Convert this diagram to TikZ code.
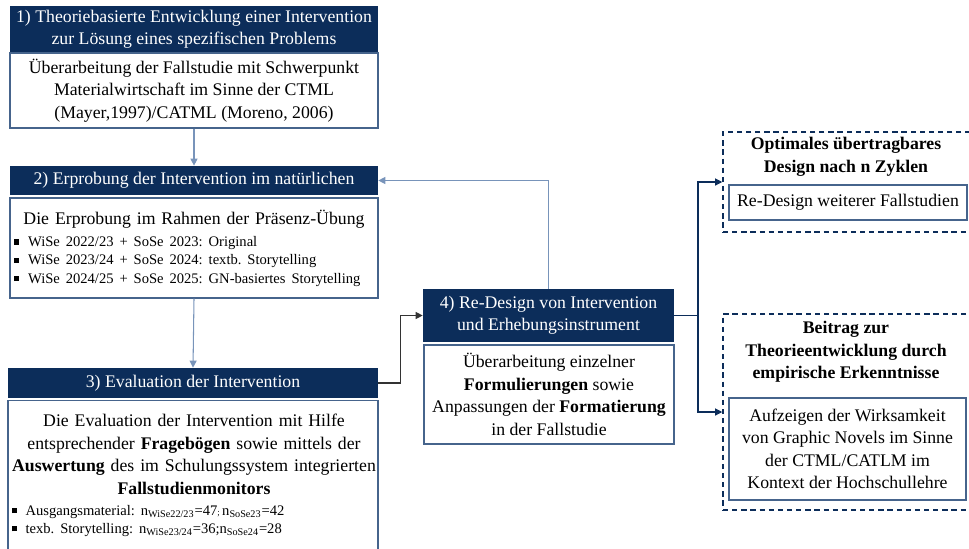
\documentclass[tikz,border=0pt]{standalone}
\usepackage{fontspec}
\setmainfont{Liberation Serif}
\usetikzlibrary{arrows.meta}
\frenchspacing

\definecolor{navy}{RGB}{12,45,90}
\definecolor{steel}{RGB}{70,100,140}
\definecolor{lightsteel}{RGB}{120,148,186}

\newcommand{\hdfont}{\fontsize{10.1}{12.6}\selectfont}
\newcommand{\txfont}{\fontsize{10.1}{12.8}\selectfont}
\newcommand{\smfont}{\fontsize{8.3}{10.4}\selectfont}
\newcommand{\bul}{\rule[0.3ex]{3pt}{3pt}\hspace{5pt}}

\tikzset{
  header/.style={fill=navy, text=white, align=center, inner sep=0pt, font=\hdfont},
  bodybox/.style={draw=steel, line width=0.8pt, fill=white, align=center, inner sep=0pt, font=\txfont},
  dashbox/.style={draw=navy, line width=0.9pt, dash pattern=on 3pt off 2.2pt},
  conn/.style={draw=lightsteel, line width=0.6pt, -{Triangle[length=4pt,width=4pt]}},
  darkconn/.style={draw=navy, line width=0.6pt, -{Triangle[length=4pt,width=4pt]}}
}

\begin{document}
\begin{tikzpicture}[x=0.02cm, y=-0.02cm]
\useasboundingbox (0,0) rectangle (969,548);

% 1) Theorie
\node[header, minimum width=7.36cm, minimum height=0.92cm] (theorie) at (194,29)
  {1) Theoriebasierte Entwicklung einer Intervention\\zur Lösung eines spezifischen Problems};
\node[bodybox, minimum width=7.36cm, minimum height=1.5cm] (ueberarb) at (194,90.5)
  {Überarbeitung der Fallstudie mit Schwerpunkt\\Materialwirtschaft im Sinne der CTML\\(Mayer,1997)/CATML (Moreno, 2006)};

% 2) Erprobung
\node[header, minimum width=7.36cm, minimum height=0.58cm] (erprobung) at (194,180.5)
  {2) Erprobung der Intervention im natürlichen};
\node[bodybox, minimum width=7.36cm, minimum height=2cm, text width=7.2cm, align=left] (praesenz) at (194,248)
  {{\centering Die Erprobung im Rahmen der Präsenz-Übung\par}\vspace{2.5pt}
   {\smfont\raggedright\bul WiSe 2022/23 + SoSe 2023: Original\\
    \bul WiSe 2023/24 + SoSe 2024: textb. Storytelling\\
    \bul WiSe 2024/25 + SoSe 2025: GN-basiertes Storytelling\par}};

% 3) Evaluation
\node[header, minimum width=7.4cm, minimum height=0.6cm] (evaluation) at (193,383)
  {3) Evaluation der Intervention};
\node[bodybox, anchor=north, minimum width=7.4cm, minimum height=3.2cm] (evalbox) at (193,400) {};
\node[anchor=north, text width=7.3cm, align=left, inner sep=0pt, font=\txfont] (evaltext) at (194,414)
  {{\centering Die Evaluation der Intervention mit Hilfe\\
    entsprechender \textbf{Fragebögen} sowie mittels der\\
    \textbf{Auswertung} des im Schulungssystem integrierten\\
    \textbf{Fallstudienmonitors}\par}\vspace{1.5pt}
   {\smfont\raggedright\bul Ausgangsmaterial: n\textsubscript{WiSe22/23}=47{\tiny;}\,n\textsubscript{SoSe23}=42\\
    \bul texb. Storytelling: n\textsubscript{WiSe23/24}=36;n\textsubscript{SoSe24}=28\par}};

% 4) Re-Design
\node[header, minimum width=5.02cm, minimum height=1.06cm] (redesign) at (548.5,315.5)
  {4) Re-Design von Intervention\\und Erhebungsinstrument};
\node[bodybox, minimum width=5cm, minimum height=1.98cm] (formul) at (549,394.5)
  {Überarbeitung einzelner\\\textbf{Formulierungen} sowie\\Anpassungen der \textbf{Formatierung}\\in der Fallstudie};

% Ergebnisse rechts
\node[dashbox, minimum width=5.04cm, minimum height=2cm] (optimal) at (849,182) {};
\node[font=\txfont\bfseries, align=center, inner sep=0pt] (optimaltitel) at (846,157)
  {Optimales übertragbares\\Design nach n Zyklen};
\node[bodybox, minimum width=4.76cm, minimum height=0.7cm] (weitere) at (848,202.5)
  {Re-Design weiterer Fallstudien};

\node[dashbox, minimum width=5.04cm, minimum height=3.92cm] (beitrag) at (849,412) {};
\node[font=\txfont\bfseries, align=center, inner sep=0pt] (beitragtitel) at (846,352)
  {Beitrag zur\\Theorieentwicklung durch\\empirische Erkenntnisse};
\node[bodybox, minimum width=4.74cm, minimum height=2.04cm] (wirksam) at (847.5,449)
  {Aufzeigen der Wirksamkeit\\von Graphic Novels im Sinne\\der CTML/CATLM im\\Kontext der Hochschullehre};

% Verbindungen
\coordinate (knick) at (698,315.5);
\draw[conn] (ueberarb.south) -- (erprobung.north);
\draw[conn] (praesenz.south) -- (evaluation.north);
\draw[darkconn, draw=black!80] (evaluation.east) -- ++(22,0) |- (redesign.west);
\draw[conn] (redesign.north) |- (erprobung.east);
\draw[navy, line width=0.6pt] (redesign.east) -- (knick);
\draw[darkconn] (knick) |- (optimal.west);
\draw[darkconn] (knick) |- (beitrag.west);
\end{tikzpicture}
\end{document}
